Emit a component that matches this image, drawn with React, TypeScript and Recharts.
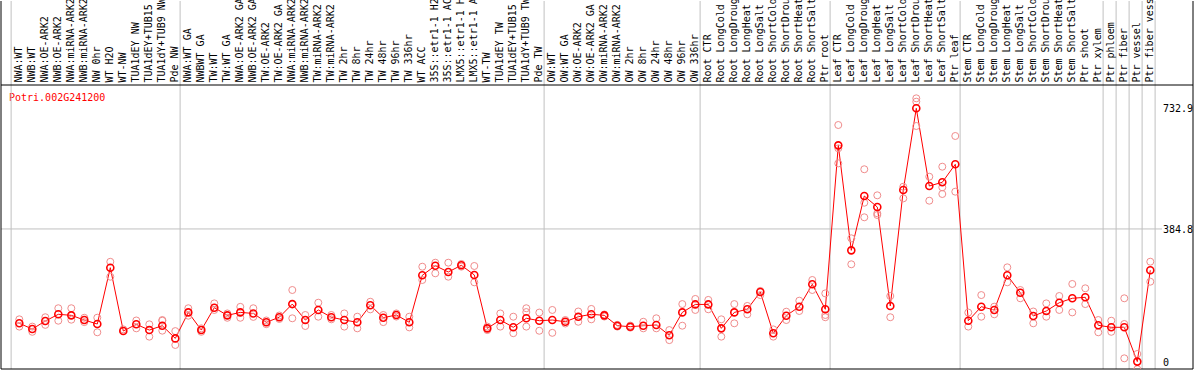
import React from 'react';
import { ComposedChart, Line, XAxis, YAxis, ReferenceLine } from 'recharts';

const title = 'Potri.002G241200';

const categories = [
  'NWA:WT', 'NWB:WT', 'NWA:OE-ARK2', 'NWB:OE-ARK2', 'NWA:miRNA-ARK2', 'NWB:miRNA-ARK2', 'NW 0hr', 'WT H2O', 'WT-NW', 'TUA1dEY NW', 'TUA1dEY+TUB15 NW', 'TUA1dY+TUB9 NW', 'Pde NW',
  'NWA:WT GA', 'NWBWT GA', 'TW:WT', 'TW:WT GA', 'NWA:OE-ARK2 GA', 'NWB:OE-ARK2 GA', 'TW:OE-ARK2', 'TW:OE-ARK2 GA', 'NWA:miRNA-ARK2 GA', 'NWB:miRNA-ARK2 GA', 'TW:miRNA-ARK2', 'TW:miRNA-ARK2 GA', 'TW 2hr', 'TW 8hr', 'TW 24hr', 'TW 48hr', 'TW 96hr', 'TW 336hr', 'WT ACC', '35S::etr1-1 H2O', '35S::etr1-1 ACC', 'LMX5::etr1-1 H2O', 'LMX5::etr1-1 ACC', 'WT-TW', 'TUA1dEY TW', 'TUA1dEY+TUB15 TW', 'TUA1dY+TUB9 TW', 'Pde TW',
  'OW:WT', 'OW:WT GA', 'OW:OE-ARK2', 'OW:OE-ARK2 GA', 'OW:miRNA-ARK2', 'OW:miRNA-ARK2 GA', 'OW 2hr', 'OW 8hr', 'OW 24hr', 'OW 48hr', 'OW 96hr', 'OW 336hr',
  'Root CTR', 'Root LongCold', 'Root LongDrought', 'Root LongHeat', 'Root LongSalt', 'Root ShortCold', 'Root ShortDrought', 'Root ShortHeat', 'Root ShortSalt', 'Ptr root',
  'Leaf CTR', 'Leaf LongCold', 'Leaf LongDrought', 'Leaf LongHeat', 'Leaf LongSalt', 'Leaf ShortCold', 'Leaf ShortDrought', 'Leaf ShortHeat', 'Leaf ShortSalt', 'Ptr leaf',
  'Stem CTR', 'Stem LongCold', 'Stem LongDrought', 'Stem LongHeat', 'Stem LongSalt', 'Stem ShortCold', 'Stem ShortDrought', 'Stem ShortHeat', 'Stem ShortSalt', 'Ptr shoot', 'Ptr xylem',
  'Ptr phloem', 'Ptr fiber', 'Ptr vessel', 'Ptr fiber vessel',
];

const means = [
  112.5, 96, 119, 138.5, 135.5, 122, 110.5, 273, 90.3, 109.6, 93, 105.6, 69,
  144, 93, 157.6, 135.5, 144, 141, 115.4, 130, 168, 122, 151, 130, 122, 115.4, 164.5, 128.7, 136.5, 115.4, 251, 278.7, 260.6, 279.9, 252, 98, 122, 101, 127, 120,
  122, 117, 131.6, 138.5, 135.5, 105.6, 102.7, 105.6, 107.6, 77.9, 144, 167,
  167, 98, 144, 153, 202.8, 83.7, 134.5, 160.5, 225, 153,
  626, 323, 479.8, 448, 162.5, 497, 732.9, 508.7, 519.4, 571.3,
  120, 160.5, 151, 251, 200.8, 133.6, 148, 172, 184.7, 187.6, 106.7,
  101, 101, 2, 265.5,
];

const repHigh = [
  124, 103, 130, 156, 156, 128.5, 128.7, 290, 95, 120.7, 109.6, 122, 90,
  156, 98, 170, 141, 160, 156, 120.7, 135, 208.6, 136.5, 172, 136.5, 141, 131.6, 174.8, 136.5, 141, 131.6, 275.8, 287.4, 287.4, 283.7, 277.9, 103, 141, 131.6, 156, 143.5,
  151, 122, 146.6, 154, 138, 108, 106, 117, 127, 93, 168, 182.8,
  180, 124, 168, 162.6, 206, 95, 146, 177.8, 237.5, 198.8,
  684.7, 357.8, 557, 481.8, 191.3, 506.7, 761.7, 535.5, 564.4, 653,
  143.5, 194, 160.5, 274, 208.6, 146.6, 170, 191.3, 226, 213.5, 122,
  120, 184.7, 24, 290.3,
];

const repLow = [
  103, 88, 108, 120, 123, 116, 86.6, 247, null, 98, 74, 91.3, 50,
  134.5, 88, 151, 128.5, 128.5, 131, 110, 125, 127, 104.7, 131.6, 124, 103, 98, 152.8, 116, 132, 100.7, 237.5, 256.8, 247, 276, 230.8, 93, 103, 84, 103, 91,
  85, 112, 117, 124, 132, 103, 100, 98, 98, 64, 105.6, 151,
  153, 74, 112.5, 138.5, 194, 74, 122, 148, 208.6, 136.5,
  617.5, 282.8, 460.5, 430, 130, 473, 752, 466.3, 485.6, 492.3,
  103, 131.6, 138.5, 230.8, 184.7, 112.5, 131.6, 151, 144, 168, 86.6,
  88, 110.5, -20, 232.6,
];

const repExtra = [
  null, null, null, null, null, null, null, null, null, null, null, 120, null,
  null, null, null, null, null, null, null, null, null, null, null, null, null, null, null, null, null, null, null, null, null, null, null, null, null, null, 145, null,
  null, null, null, null, null, null, null, null, null, null, null, null,
  null, null, null, null, null, null, null, null, null, 130,
  574, null, 418.4, 425, null, null, 681.8, null, 505, null,
  null, null, null, null, null, null, null, null, null, null, null,
  null, 11.5, null, null,
];

const groupStarts = [0, 13, 41, 53, 63, 73, 84, 85, 86, 87, 88];
const yTicks = [0, 384.8, 732.9];
const midGrid = 384.8;

// axis set-up (domains chosen so the scales land where the reference draws)
const X_MIN = -1.4077;
const X_MAX = 90.285;
const Y_MIN = -19.33;
const Y_MAX = 1042.5;
const FRAME_TOP = 800.1;
const GRID_SHIFT = 0.63;
const GRID_END = 87.9;

const FONT = '"DejaVu Sans Mono", monospace';

const rows = categories.map((name, i) => ({
  idx: i,
  name,
  mean: means[i],
  r1: repHigh[i],
  r2: repLow[i],
  r3: repExtra[i],
}));

const XTick = (props: any) => {
  const { x, payload } = props;
  return (
    <text
      transform={`translate(${x + 2.7},82.5) rotate(-90)`}
      fontFamily={FONT}
      fontSize={10}
      fill="#000"
      textAnchor="start"
    >
      {categories[payload.value]}
    </text>
  );
};

const YTick = (props: any) => {
  const { y, payload } = props;
  return (
    <text x={1163} y={y + 3.6} fontFamily={FONT} fontSize={10} fill="#000" textAnchor="start">
      {String(payload.value)}
    </text>
  );
};

const repDot = (props: any) => {
  const { cx, cy, value, index } = props;
  if (value == null || cy == null || isNaN(cy)) return <g key={`e${index}`} />;
  return <circle key={`c${index}`} cx={cx} cy={cy} r={3.5} fill="none" stroke="#f08c8c" strokeWidth={1} />;
};

const mainDot = (props: any) => {
  const { cx, cy, index } = props;
  return <circle key={`m${index}`} cx={cx} cy={cy} r={3.5} fill="none" stroke="#ff0000" strokeWidth={1.6} />;
};

export default function App() {
  return (
    <div style={{ position: 'absolute', left: 0, top: 0, width: 1194, height: 370, background: '#fff' }}>
      <style>{'body{margin:0}'}</style>
      <ComposedChart width={1194} height={370} data={rows} margin={{ top: 0, right: 0, bottom: 1, left: 1 }}>
        <XAxis
          type="number"
          dataKey="idx"
          orientation="top"
          domain={[X_MIN, X_MAX]}
          allowDataOverflow
          ticks={rows.map((r) => r.idx)}
          interval={0}
          height={1}
          axisLine={false}
          tickLine={false}
          tick={XTick}
        />
        <YAxis
          type="number"
          orientation="right"
          domain={[Y_MIN, Y_MAX]}
          allowDataOverflow
          ticks={yTicks}
          interval={0}
          width={1}
          axisLine={false}
          tickLine={false}
          tick={YTick}
        />
        {groupStarts.map((b) => (
          <ReferenceLine key={`g${b}`} x={b - GRID_SHIFT} stroke="#c0c0c0" strokeWidth={1} ifOverflow="visible" />
        ))}
        <ReferenceLine
          segment={[{ x: X_MIN, y: midGrid }, { x: GRID_END, y: midGrid }]}
          stroke="#c0c0c0"
          strokeWidth={1}
          ifOverflow="visible"
        />
        <ReferenceLine y={FRAME_TOP} stroke="#000" strokeWidth={1} ifOverflow="visible" />
        <ReferenceLine y={Y_MIN} stroke="#000" strokeWidth={1} ifOverflow="visible" />
        <ReferenceLine x={X_MIN} stroke="#000" strokeWidth={1} ifOverflow="visible" />
        <ReferenceLine x={X_MAX} stroke="#000" strokeWidth={1} ifOverflow="visible" />
        <Line dataKey="r1" stroke="none" dot={repDot} activeDot={false} isAnimationActive={false} legendType="none" />
        <Line dataKey="r2" stroke="none" dot={repDot} activeDot={false} isAnimationActive={false} legendType="none" />
        <Line dataKey="r3" stroke="none" dot={repDot} activeDot={false} isAnimationActive={false} legendType="none" />
        <Line
          dataKey="mean"
          stroke="#ff0000"
          strokeWidth={1}
          dot={mainDot}
          activeDot={false}
          isAnimationActive={false}
          legendType="none"
        />
        <text x={9} y={100.5} fill="#ff0000" fontFamily={FONT} fontSize={10}>
          {title}
        </text>
      </ComposedChart>
    </div>
  );
}
